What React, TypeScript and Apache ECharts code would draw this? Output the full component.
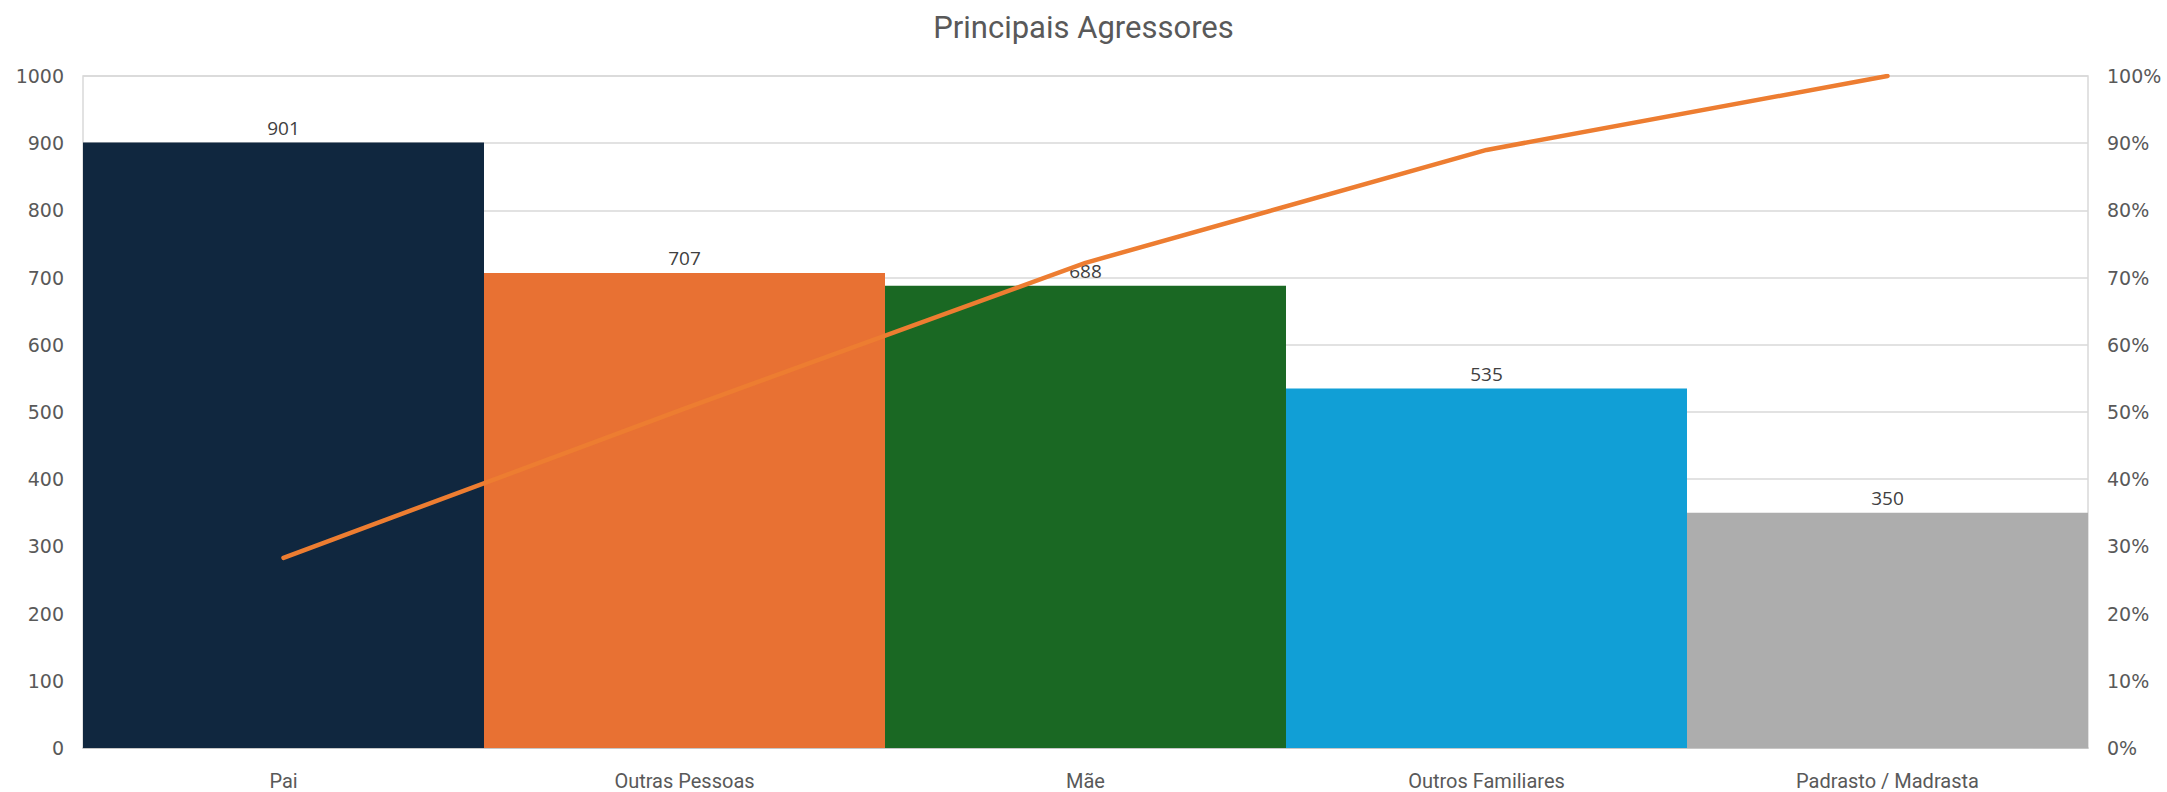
import React, { useEffect, useRef } from "react";
import * as echarts from "echarts";

const categories = ["Pai", "Outras Pessoas", "Mãe", "Outros Familiares", "Padrasto / Madrasta"];
const counts = [901, 707, 688, 535, 350];
const cumulativePercent = [28.3, 50.5, 72.2, 89.0, 100];
const barColors = ["#10273F", "#E87133", "#1A6823", "#119FD6", "#ADADAD"];
const leftTicks = { min: 0, max: 1000, interval: 100 };
const rightTicks = { min: 0, max: 100, interval: 10 };

export default function App() {
  const ref = useRef<HTMLDivElement>(null);
  useEffect(() => {
    document.body.style.margin = "0";
    const chart = echarts.init(ref.current!, null, { renderer: "svg" });
    const axisFont = "DejaVu Sans";
    chart.setOption({
      animation: false,
      backgroundColor: "#ffffff",
      title: {
        text: "Principais Agressores",
        left: "center",
        top: 7,
        textStyle: { color: "#595959", fontSize: 31, fontWeight: "normal", fontFamily: "Roboto" },
      },
      grid: { left: 83, right: 79, top: 76, bottom: 44, show: true, borderColor: "#D9D9D9", borderWidth: 1.5 },
      xAxis: {
        type: "category",
        data: categories,
        axisTick: { show: false },
        axisLine: { lineStyle: { color: "#BFBFBF", width: 1.5 } },
        axisLabel: { color: "#595959", fontSize: 20, fontFamily: "Roboto", margin: 23 },
      },
      yAxis: [
        {
          type: "value",
          ...leftTicks,
          axisLine: { show: false },
          axisTick: { show: false },
          splitLine: { lineStyle: { color: "#D9D9D9", width: 1.5 } },
          axisLabel: { color: "#595959", fontSize: 19, fontFamily: axisFont, margin: 19, formatter: (v: number) => String(v) },
        },
        {
          type: "value",
          ...rightTicks,
          axisLine: { show: false },
          axisTick: { show: false },
          splitLine: { show: false },
          axisLabel: { color: "#595959", fontSize: 19, fontFamily: axisFont, margin: 19, formatter: "{value}%" },
        },
      ],
      series: [
        {
          type: "bar",
          data: counts.map((v, i) => ({ value: v, itemStyle: { color: barColors[i] } })),
          barCategoryGap: "0%",
          label: { show: true, position: "top", distance: 5, color: "#404040", fontSize: 19, fontFamily: "Open Sans" },
          z: 2,
        },
        {
          type: "line",
          yAxisIndex: 1,
          data: cumulativePercent,
          showSymbol: false,
          symbol: "none",
          lineStyle: { color: "#ED7D31", width: 4.5, cap: "round", join: "round" },
          z: 5,
        },
      ],
    });
    return () => chart.dispose();
  }, []);
  return <div ref={ref} style={{ width: 2167, height: 792 }} />;
}
